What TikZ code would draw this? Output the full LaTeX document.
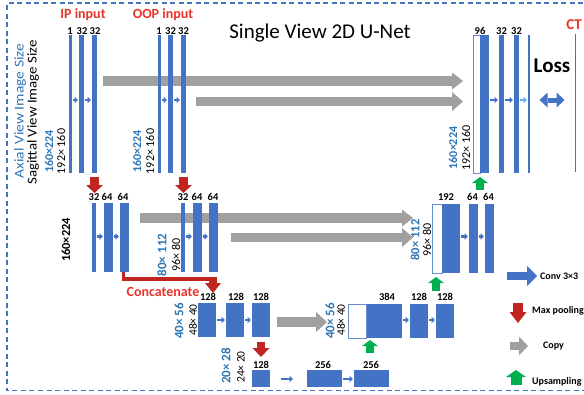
\documentclass[tikz,border=0pt]{standalone}
\usepackage{fontspec}
\setmainfont{Carlito}
\usetikzlibrary{arrows.meta,calc}
\definecolor{ublue}{HTML}{4472C4}
\definecolor{tblue}{HTML}{2E75B6}
\definecolor{pred}{HTML}{C0261F}
\definecolor{tred}{HTML}{E8332A}
\definecolor{cgray}{HTML}{A0A0A0}
\definecolor{ugreen}{HTML}{00B050}
\definecolor{lblue}{HTML}{5AB4E6}
\pgfdeclarelayer{bg}
\pgfsetlayers{bg,main}
\newcommand\fsz[1]{\fontsize{#1}{#1}\selectfont}
% feature map bar: name, left x, top y, width, height
\newcommand\fmapnode[5]{\node[fm,minimum width=#4pt,minimum height=#5pt] (#1) at (#2,#3) {};}
% small conv arrow between two bars along a row
\newcommand\convarr[3]{\draw[conv] ($(#1.east|-#3)+(1,0)$) -- ($(#2.west|-#3)+(-1,0)$);}
\begin{document}
\begin{tikzpicture}[x=1pt,y=-1pt,
  fm/.style={rectangle,fill=ublue,draw=none,inner sep=0pt,outer sep=0pt,anchor=north west},
  fmw/.style={fm,fill=white,draw=ublue!80,line width=0.8pt},
  lbl/.style={font=\fsz{10.5}\bfseries,inner sep=0pt},
  rot/.style={rotate=90,inner sep=0pt},
  szb/.style={rot,text=tblue,font=\fsz{#1}\bfseries},
  szk/.style={rot,font=\fsz{#1}},
  leg/.style={anchor=west,inner sep=0pt,font=\fsz{10}\bfseries},
  conv/.style={draw=ublue,line width=2.2pt,-{Triangle[length=3.5pt,width=6.5pt,line width=0pt]}},
  fat/.style n args={4}{draw=#1,line width=#2,-{Triangle[length=#3,width=#4,line width=0pt]}}
]
\useasboundingbox (0,0) rectangle (584,394);
\clip (0,0) rectangle (584,394);

% dashed frame
\draw[ublue,line width=1.1pt,dash pattern=on 5pt off 3.5pt] (600,3) -- (7,3) -- (7,390.5) -- (600,390.5);

% titles
\node[font=\fsz{21}] (title) at (320,33) {Single View 2D U-Net};
\node[font=\fsz{14}\bfseries,text=tred] (ip) at (83,15) {IP input};
\node[font=\fsz{14}\bfseries,text=tred] (oop) at (163,15) {OOP input};
\node[font=\fsz{15}\bfseries,text=tred] (ctl) at (574,25) {CT};
\node[font=\fsz{21}\bfseries] (loss) at (552,66) {Loss};
\node[font=\fsz{14}\bfseries,text=tred] (concat) at (163,292) {Concatenate};

% side captions
\node[rot,text=tblue,font=\fsz{13.5}] (axl) at (20,111) {\scalebox{1.15}[1]{Axial View Image Size}};
\node[rot,font=\fsz{13.5}] (sgl) at (33,112.5) {\scalebox{1.1}[1]{Sagittal View Image Size}};

% ---- level 1 ----
\fmapnode{i1a}{69}{35}{2.5}{138}
\fmapnode{i1b}{79}{35}{5}{138}
\fmapnode{i1c}{92}{35}{5}{138}
\fmapnode{o1a}{158}{35}{2.5}{138}
\fmapnode{o1b}{168}{35}{5}{138}
\fmapnode{o1c}{181}{35}{5}{138}
\node[fmw,minimum width=7pt,minimum height=138pt] (u1w) at (473,35) {};
\fmapnode{u1b}{479.5}{35}{9}{138}
\fmapnode{u1c}{499}{35}{5}{138}
\fmapnode{u1d}{514}{35}{5}{138}
\fmapnode{out}{528}{35}{1.6}{138}
\fmapnode{ct}{574.5}{34}{1.6}{138}

\node[lbl] (l-i1a) at (70,31) {1};
\node[lbl] (l-i1b) at (82,31) {32};
\node[lbl] (l-i1c) at (95,31) {32};
\node[lbl] (l-o1a) at (159,31) {1};
\node[lbl] (l-o1b) at (170.5,31) {32};
\node[lbl] (l-o1c) at (183.5,31) {32};
\node[lbl] (l-u1b) at (480,31) {96};
\node[lbl] (l-u1c) at (501.5,31) {32};
\node[lbl] (l-u1d) at (516.5,31) {32};

\node[szb=12] (s1) at (49,151.5) {160×224};
\node[szk=12] (s2) at (61,151.5) {192× 160};
\node[szb=12] (s3) at (137,151.5) {160×224};
\node[szk=12] (s4) at (150,151.5) {192× 160};
\node[szb=12] (s5) at (453,148) {160×224};
\node[szk=12] (s6) at (466,148) {192× 160};

\coordinate (r1) at (0,100);
\convarr{i1a}{i1b}{r1}
\convarr{i1b}{i1c}{r1}
\convarr{o1a}{o1b}{r1}
\convarr{o1b}{o1c}{r1}
\convarr{u1b}{u1c}{r1}
\convarr{u1c}{u1d}{r1}
\draw[conv,draw=lblue] ($(u1d.east|-r1)+(1,0)$) -- ($(out.west|-r1)+(-1,0)$);
\draw[ublue,line width=5pt,{Triangle[length=8pt,width=15pt,line width=0pt]}-{Triangle[length=8pt,width=15pt,line width=0pt]}]
  ($(out.east|-r1)+(10,0)$) -- ($(ct.west|-r1)+(-10,0)$);

% ---- level 2 ----
\fmapnode{i2a}{92}{203}{4}{69}
\fmapnode{i2b}{104}{203}{9}{69}
\fmapnode{i2c}{120}{203}{9}{69}
\fmapnode{o2a}{181}{203}{4}{69}
\fmapnode{o2b}{193}{203}{9}{69}
\fmapnode{o2c}{209}{203}{9}{69}
\node[fmw,minimum width=10pt,minimum height=69pt] (u2w) at (432,204) {};
\fmapnode{u2b}{441.5}{204}{18}{69}
\fmapnode{u2c}{469}{204}{9}{69}
\fmapnode{u2d}{485}{204}{9}{69}

\node[lbl] (l-i2a) at (94,197) {32};
\node[lbl] (l-i2b) at (107,197) {64};
\node[lbl] (l-i2c) at (123,197) {64};
\node[lbl] (l-o2a) at (183,197) {32};
\node[lbl] (l-o2b) at (197,197) {64};
\node[lbl] (l-o2c) at (213,197) {64};
\node[lbl] (l-u2b) at (446,197) {192};
\node[lbl] (l-u2c) at (472.5,197) {64};
\node[lbl] (l-u2d) at (488.5,197) {64};

\node[rot,font=\fsz{12.4}\bfseries] (s7) at (66,240) {160×224};
\node[szb=13] (s8) at (162,255) {80× 112};
\node[szk=12] (s9) at (176,255) {96× 80};
\node[szb=12.5] (s10) at (415,240) {80× 112};
\node[szk=12] (s11) at (427,240) {96× 80};

\coordinate (r2) at (0,236.5);
\convarr{i2a}{i2b}{r2}
\convarr{i2b}{i2c}{r2}
\convarr{o2a}{o2b}{r2}
\convarr{o2b}{o2c}{r2}
\convarr{u2b}{u2c}{r2}
\convarr{u2c}{u2d}{r2}

% ---- level 3 ----
\fmapnode{d3a}{198}{303}{18}{34}
\fmapnode{d3b}{226}{303}{18}{34}
\fmapnode{d3c}{252}{303}{18}{34}
\node[fmw,minimum width=18.5pt,minimum height=34pt] (u3w) at (348,304) {};
\fmapnode{u3b}{366.5}{304}{35}{34}
\fmapnode{u3c}{410}{304}{18}{34}
\fmapnode{u3d}{436}{304}{18}{34}

\node[lbl] (l-d3a) at (208,297) {128};
\node[lbl] (l-d3b) at (236,297) {128};
\node[lbl] (l-d3c) at (261,297) {128};
\node[lbl] (l-u3b) at (387,297) {384};
\node[lbl] (l-u3c) at (419,297) {128};
\node[lbl] (l-u3d) at (445,297) {128};

\node[szb=13] (s12) at (179,321) {40× 56};
\node[szk=11.5] (s13) at (193,320) {48× 40};
\node[szb=13] (s14) at (330,321) {40× 56};
\node[szk=11.5] (s15) at (341,320) {48× 40};

\coordinate (r3) at (0,320);
\convarr{d3a}{d3b}{r3}
\convarr{d3b}{d3c}{r3}
\convarr{u3b}{u3c}{r3}
\convarr{u3c}{u3d}{r3}

% ---- level 4 ----
\fmapnode{b4a}{252}{370}{18}{17}
\fmapnode{b4b}{307}{370}{35}{17}
\fmapnode{b4c}{354}{370}{35}{17}
\node[lbl] (l-b4a) at (261,365) {128};
\node[lbl] (l-b4b) at (323,365) {256};
\node[lbl] (l-b4c) at (371,365) {256};
\node[szb=13] (s16) at (226,366) {20× 28};
\node[szk=11.5] (s17) at (241,367) {24× 20};

\coordinate (r4) at (0,379);
\draw[conv] ($(b4a.east|-r4)+(11,0)$) -- ($(b4b.west|-r4)+(-14,0)$);
\convarr{b4b}{b4c}{r4}

% ---- copy connections (behind the bars) ----
\begin{pgfonlayer}{bg}
\coordinate (c1) at (103,81);
\draw[fat={cgray}{10pt}{11pt}{17pt}] (c1) -- ($(u1w.west|-c1)+(-10,0)$);
\coordinate (c2) at (196,101.5);
\draw[fat={cgray}{9pt}{11pt}{19pt}] (c2) -- ($(u1w.west|-c2)+(-10,0)$);
\coordinate (c3) at (140,218);
\draw[fat={cgray}{10pt}{11pt}{17pt}] (c3) -- ($(u2w.west|-c3)+(-19,0)$);
\coordinate (c4) at (231,237.5);
\draw[fat={cgray}{9pt}{11pt}{19pt}] (c4) -- ($(u2w.west|-c4)+(-19,0)$);
\coordinate (c5) at (277,322);
\draw[fat={cgray}{10pt}{11pt}{20pt}] (c5) -- ($(u3w.west|-c5)+(-21,0)$);
\end{pgfonlayer}

% ---- max pooling ----
\draw[fat={pred}{8.5pt}{8pt}{17pt}] ($(i1c.south)+(0,4)$) -- ($(i1c.south)+(0,20)$);
\draw[fat={pred}{8.5pt}{8pt}{17pt}] ($(o1c.south)+(0,4)$) -- ($(o1c.south)+(0,20)$);
\draw[fat={pred}{7.5pt}{9pt}{17pt}] ($(d3c.south)+(0,5)$) -- ($(d3c.south)+(0,20)$);

% ---- concatenation ----
\coordinate (cj) at (213,279);
\draw[pred,line width=3.5pt] ($(i2c.south)+(-1,0)$) |- ($(cj)+(3,0)$);
\draw[fat={pred}{7.5pt}{10pt}{16pt}] ($(cj)+(0,-2)$) -- ($(d3a.north)+(6,-10)$);

% ---- upsampling ----
\draw[fat={ugreen}{8pt}{6pt}{16pt}] ($(u1w.south east)+(0,17)$) -- ($(u1w.south east)+(0,4)$);
\draw[fat={ugreen}{8pt}{6pt}{16pt}] ($(u2w.south)+(-1,18)$) -- ($(u2w.south)+(-1,4)$);
\draw[fat={ugreen}{8pt}{6pt}{16pt}] ($(u3w.south east)+(3.5,15)$) -- ($(u3w.south east)+(3.5,2)$);

% ---- legend ----
\coordinate (g1a) at (507,276); \coordinate (g1b) at (537,276);
\draw[fat={ublue}{8pt}{10pt}{20pt}] (g1a) -- (g1b);
\node[leg] (t1) at (540,276) {Conv 3×3};
\coordinate (g2a) at (518,303); \coordinate (g2b) at (518,323);
\draw[fat={pred}{10pt}{11pt}{17pt}] (g2a) -- (g2b);
\node[leg] (t2) at (532,311) {Max pooling};
\coordinate (g3a) at (510,346); \coordinate (g3b) at (528,346);
\draw[fat={cgray}{8pt}{9pt}{19pt}] (g3a) -- (g3b);
\node[leg] (t3) at (543,346) {Copy};
\coordinate (g4a) at (516,385); \coordinate (g4b) at (516,370);
\draw[fat={ugreen}{11pt}{7pt}{20pt}] (g4a) -- (g4b);
\node[leg] (t4) at (532,382) {Upsampling};
\end{tikzpicture}
\end{document}
